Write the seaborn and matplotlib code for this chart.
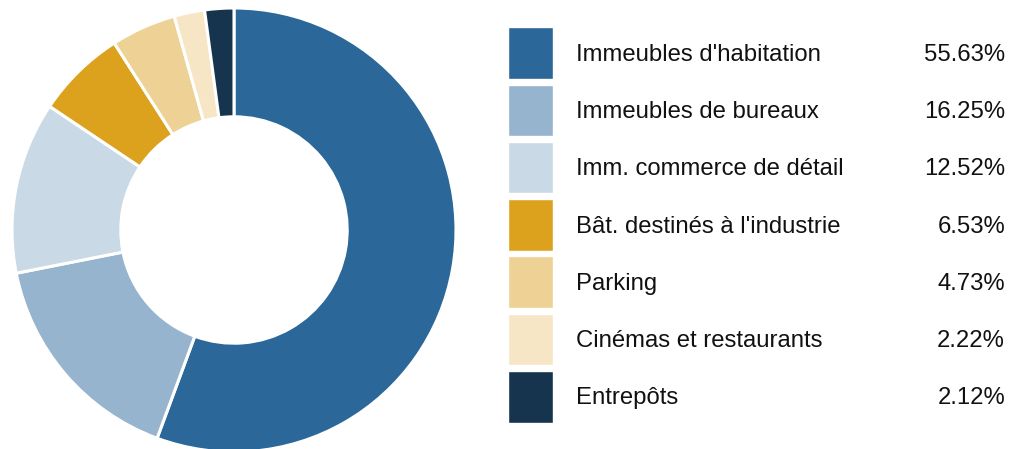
import matplotlib
matplotlib.use("Agg")
import matplotlib.pyplot as plt
import seaborn as sns

# data
categories = ["Immeubles d'habitation", "Immeubles de bureaux", "Imm. commerce de détail",
              "Bât. destinés à l'industrie", "Parking", "Cinémas et restaurants", "Entrepôts"]
shares = [55.63, 16.25, 12.52, 6.53, 4.73, 2.22, 2.12]
colors = ["#2B6799", "#96B4CE", "#C9D9E6", "#DCA21E", "#EED194", "#F6E6C6", "#17344F"]

sns.set_style("white")
plt.rcParams['font.family'] = ['Liberation Sans', 'DejaVu Sans']
palette = sns.color_palette(colors)

W, H = 1013, 449
fig = plt.figure(figsize=(W / 100, H / 100), dpi=100)

# donut
ax = fig.add_axes([12 / W, -3 / H, 444 / W, 444 / H])
ax.pie(shares, colors=palette, startangle=90, counterclock=False, radius=1,
       wedgeprops=dict(width=0.49, edgecolor="white", linewidth=2.2))
ax.set_xlim(-1, 1)
ax.set_ylim(-1, 1)
ax.set_aspect("equal")
ax.axis("off")

# legend as its own axes
lg = fig.add_axes([508 / W, (H - 422.5) / H, 497 / W, 395.2 / H])
n = len(categories)
lg.barh(range(n), [45] * n, left=0, height=0.9, color=palette)
for i, (cat, val) in enumerate(zip(categories, shares)):
    lg.text(68, i + 0.03, cat, va="center", ha="left", fontsize=17.2, color="#111111")
    lg.text(497, i + 0.03, f"{val:.2f}%", va="center", ha="right", fontsize=17.2, color="#111111")
lg.set_xlim(0, 497)
lg.set_ylim(n - 0.55, -0.45)
lg.axis("off")

fig.savefig("out.png", dpi=100)
